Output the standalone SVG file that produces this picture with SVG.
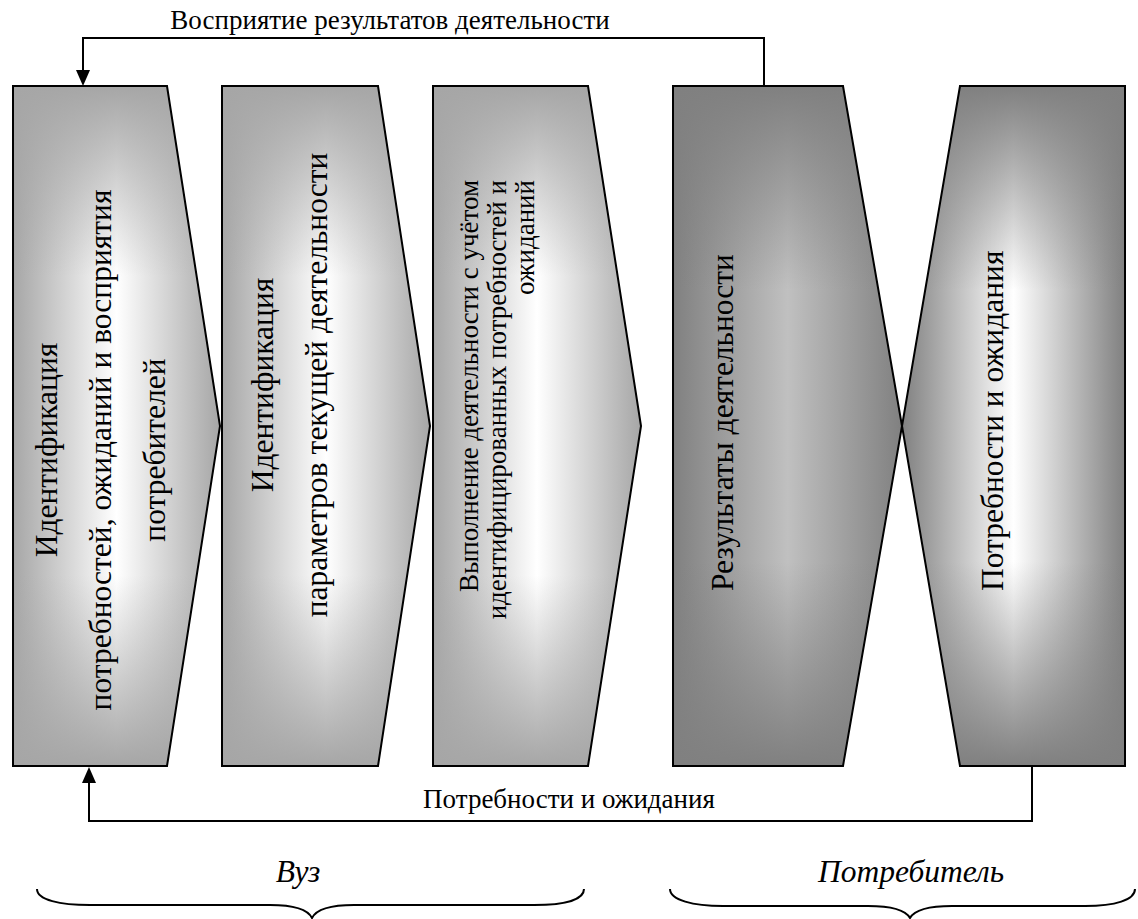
<svg xmlns="http://www.w3.org/2000/svg" width="1138" height="919" viewBox="0 0 1138 919">
<style>
.sh{stroke:#000;stroke-width:2;stroke-linejoin:miter}
.vt{font-family:"Liberation Serif","Times New Roman",serif;font-size:31.5px;fill:#000}
.vs{font-family:"Liberation Serif","Times New Roman",serif;font-size:27px;fill:#000}
.lb{font-family:"Liberation Serif","Times New Roman",serif;font-size:27px;fill:#000}
.it{font-family:"Liberation Serif","Times New Roman",serif;font-size:31.5px;font-style:italic;fill:#000}
.cn{fill:none;stroke:#000;stroke-width:2}
</style>
<defs>
<linearGradient id="hL" x1="0" y1="0" x2="1" y2="0">
<stop offset="0" stop-color="#a6a6a6"/><stop offset="0.5" stop-color="#ffffff"/><stop offset="1" stop-color="#a6a6a6"/>
</linearGradient>
<linearGradient id="vL" x1="0" y1="0" x2="0" y2="1">
<stop offset="0" stop-color="#a6a6a6" stop-opacity="1"/><stop offset="0.28" stop-color="#a6a6a6" stop-opacity="0"/><stop offset="0.72" stop-color="#a6a6a6" stop-opacity="0"/><stop offset="1" stop-color="#a6a6a6" stop-opacity="1"/>
</linearGradient>
<linearGradient id="hD" x1="0" y1="0" x2="1" y2="0">
<stop offset="0" stop-color="#808080"/><stop offset="0.5" stop-color="#c0c0c0"/><stop offset="1" stop-color="#808080"/>
</linearGradient>
<linearGradient id="hW" x1="0" y1="0" x2="1" y2="0">
<stop offset="0" stop-color="#808080"/><stop offset="0.5" stop-color="#ffffff"/><stop offset="1" stop-color="#808080"/>
</linearGradient>
<linearGradient id="vD" x1="0" y1="0" x2="0" y2="1">
<stop offset="0" stop-color="#808080" stop-opacity="1"/><stop offset="0.3" stop-color="#808080" stop-opacity="0"/><stop offset="0.7" stop-color="#808080" stop-opacity="0"/><stop offset="1" stop-color="#808080" stop-opacity="1"/>
</linearGradient>
</defs>

<g id="node1">
<path d="M13,86 H167 L220,426 L167,766 H13 Z" fill="url(#hL)"/>
<path d="M13,86 H167 L220,426 L167,766 H13 Z" fill="url(#vL)" class="sh"/>
<g class="vt">
<text transform="translate(57,450) rotate(-90)" text-anchor="middle">Идентификация</text>
<text transform="translate(111,450) rotate(-90)" text-anchor="middle">потребностей, ожиданий и восприятия</text>
<text transform="translate(165,450) rotate(-90)" text-anchor="middle">потребителей</text>
</g>
</g>

<g id="node2">
<path d="M222,86 H378 L430,426 L378,766 H222 Z" fill="url(#hL)"/>
<path d="M222,86 H378 L430,426 L378,766 H222 Z" fill="url(#vL)" class="sh"/>
<g class="vt">
<text transform="translate(273,385) rotate(-90)" text-anchor="middle">Идентификация</text>
<text transform="translate(327,385) rotate(-90)" text-anchor="middle">параметров текущей деятельности</text>
</g>
</g>

<g id="node3">
<path d="M433,86 H588 L641,426 L588,766 H433 Z" fill="url(#hL)"/>
<path d="M433,86 H588 L641,426 L588,766 H433 Z" fill="url(#vL)" class="sh"/>
<g class="vs">
<text transform="translate(478,180) rotate(-90)" text-anchor="end">Выполнение деятельности с учётом</text>
<text transform="translate(506,180) rotate(-90)" text-anchor="end">идентифицированных потребностей и</text>
<text transform="translate(534,180) rotate(-90)" text-anchor="end">ожиданий</text>
</g>
</g>

<g id="node4">
<path d="M673,86 H843 L902,426 L843,766 H673 Z" fill="url(#hD)"/>
<path d="M673,86 H843 L902,426 L843,766 H673 Z" fill="url(#vD)" class="sh"/>
<text class="vt" transform="translate(733,591) rotate(-90)">Результаты деятельности</text>
</g>

<g id="node5">
<path d="M960,86 H1125 V766 H960 L902,426 Z" fill="url(#hW)"/>
<path d="M960,86 H1125 V766 H960 L902,426 Z" fill="url(#vD)" class="sh"/>
<text class="vt" transform="translate(1003,591) rotate(-90)">Потребности и ожидания</text>
</g>

<g id="connectors">
<path class="cn" d="M764,86 V38 H83 V70" />
<path d="M76,70 L90,70 L83,86 Z" fill="#000"/>
<path class="cn" d="M1032,766 V821 H89 V783" />
<path d="M82,783 L96,783 L89,767 Z" fill="#000"/>
<text class="lb" x="390" y="29" text-anchor="middle">Восприятие результатов деятельности</text>
<text class="lb" x="569" y="808" text-anchor="middle">Потребности и ожидания</text>
</g>

<g id="braces">
<path class="cn" d="M37,889 C37,900 60,905 90,905 H270 C295,905 308,910 312,918 C316,910 329,905 354,905 H534 C564,905 584,900 584,889"/>
<path class="cn" d="M670,889 C670,900 693,906 723,906 H868 C893,906 906,911 910,918 C914,911 927,906 952,906 H1085 C1115,906 1135,900 1135,889"/>
<text class="it" x="298" y="882" text-anchor="middle">Вуз</text>
<text class="it" x="911" y="882" text-anchor="middle">Потребитель</text>
</g>
</svg>
